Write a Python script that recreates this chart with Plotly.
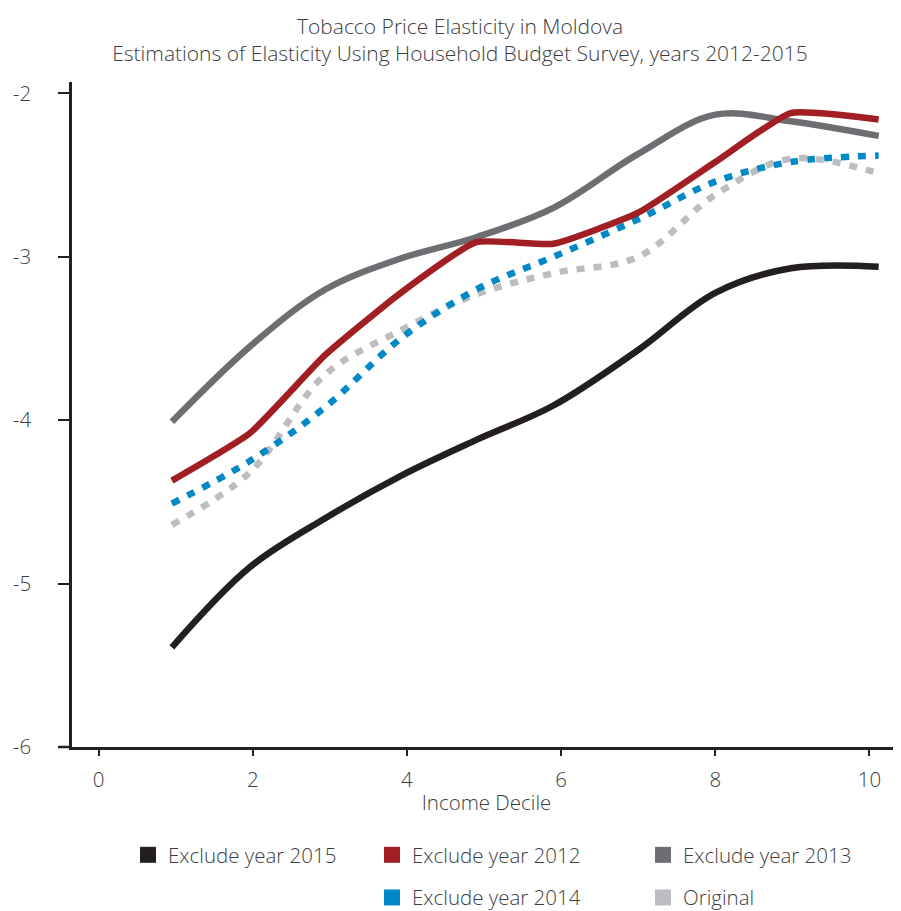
import plotly.graph_objects as go

# ---- data ----
decile_position = [0.95, 1.96, 2.94, 3.92, 4.90, 5.90, 7.00, 8.00, 8.98, 10.12]

excl_2015 = [-5.39, -4.90, -4.60, -4.34, -4.12, -3.91, -3.57, -3.22, -3.07, -3.06]
excl_2012 = [-4.37, -4.08, -3.60, -3.22, -2.91, -2.92, -2.73, -2.42, -2.12, -2.16]
excl_2013 = [-4.01, -3.55, -3.20, -3.01, -2.88, -2.70, -2.37, -2.13, -2.17, -2.26]
excl_2014 = [-4.51, -4.25, -3.92, -3.50, -3.20, -3.00, -2.77, -2.54, -2.42, -2.38]
original  = [-4.64, -4.32, -3.72, -3.45, -3.23, -3.10, -3.00, -2.62, -2.40, -2.49]

series_names = ["Exclude year 2015", "Exclude year 2012", "Exclude year 2013",
                "Exclude year 2014", "Original"]
x_ticks = [0, 2, 4, 6, 8, 10]
x_tick_labels = ["0", "2", "4", "6", "8", "10"]
y_ticks = [-6, -5, -4, -3, -2]
y_tick_labels = ["-6", "-5", "-4", "-3", "-2"]

title_line1 = "Tobacco Price Elasticity in Moldova"
title_line2 = "Estimations of Elasticity Using Household Budget Survey, years 2012-2015"
x_title = "Income Decile"

# ---- styles ----
FONT = "Open Sans"
TXT = "#3d3d3d"
AX = "#231f20"
FS = 20.5
styles = {
    "Exclude year 2015": dict(color="#231f20", dash="solid", width=6.5, smoothing=1.0, legend="legend"),
    "Exclude year 2012": dict(color="#a11e23", dash="solid", width=6.5, smoothing=0.45, legend="legend2"),
    "Exclude year 2013": dict(color="#6d6e71", dash="solid", width=6.5, smoothing=1.0, legend="legend3"),
    "Exclude year 2014": dict(color="#0089c6", dash="8px,9px", width=6.5, smoothing=1.0, legend="legend2"),
    "Original":          dict(color="#bcbdc0", dash="8px,9px", width=6.5, smoothing=1.0, legend="legend3"),
}
values = {
    "Exclude year 2015": excl_2015,
    "Exclude year 2012": excl_2012,
    "Exclude year 2013": excl_2013,
    "Exclude year 2014": excl_2014,
    "Original": original,
}

fig = go.Figure()
draw_order = ["Original", "Exclude year 2014", "Exclude year 2013", "Exclude year 2012", "Exclude year 2015"]
for name in draw_order:
    s = styles[name]
    fig.add_trace(go.Scatter(
        x=decile_position, y=values[name], mode="lines", name=name,
        line=dict(color=s["color"], width=s["width"], dash=s["dash"],
                  shape="spline", smoothing=s["smoothing"]),
        showlegend=False, hoverinfo="skip", cliponaxis=False))

for name in series_names:
    s = styles[name]
    fig.add_trace(go.Scatter(
        x=[None], y=[None], mode="markers", name=name,
        marker=dict(symbol="square", size=16, color=s["color"]),
        legend=s["legend"], legendgroup=name, showlegend=True))

W, H = 901, 911
ML, MR, MT, MB = 64, 8, 74, 172
PW = W - ML - MR
font_main = dict(family=FONT, size=FS, color=TXT, weight=300)
title_font = dict(family=FONT, size=21, color=TXT, weight=300)
legend_common = dict(orientation="v", xref="container", yref="container",
                     xanchor="left", yanchor="top", tracegroupgap=13,
                     bgcolor="rgba(0,0,0,0)", font=font_main)
leg_top = 1 - 827 / H

fig.update_layout(
    width=W, height=H,
    paper_bgcolor="white", plot_bgcolor="white",
    margin=dict(l=ML, r=MR, t=MT, b=MB, autoexpand=False),
    font=font_main,
    title=dict(text=title_line1 + "<br>" + title_line2,
               x=452 / W, xref="container", xanchor="center",
               y=1 - 26 / H, yref="container", yanchor="top",
               font=title_font),
    xaxis=dict(range=[-0.346, 10.41], tickvals=x_ticks, ticktext=x_tick_labels,
               ticks="outside", ticklen=6, automargin=False,
               tickwidth=2, tickcolor=AX, showline=True, linecolor=AX, linewidth=2.5,
               showgrid=False, zeroline=False, ticklabelstandoff=7,
               title=dict(text=x_title, standoff=4, font=font_main),
               tickfont=font_main),
    yaxis=dict(range=[-6, -1.93], tickvals=y_ticks, ticktext=y_tick_labels,
               ticks="outside", ticklen=11, automargin=False,
               tickwidth=2, tickcolor=AX, showline=True, linecolor=AX, linewidth=2.5,
               showgrid=False, zeroline=False,
               ticklabelstandoff=23, tickfont=font_main),
    legend=dict(legend_common, x=120 / W, y=leg_top),
    legend2=dict(legend_common, x=364 / W, y=leg_top),
    legend3=dict(legend_common, x=635 / W, y=leg_top),
    shapes=[dict(type="line", xref="paper", yref="paper",
                 x0=-14 / PW, x1=0, y0=0, y1=0,
                 line=dict(color=AX, width=2.5))],
)

fig.write_html("out.html")
